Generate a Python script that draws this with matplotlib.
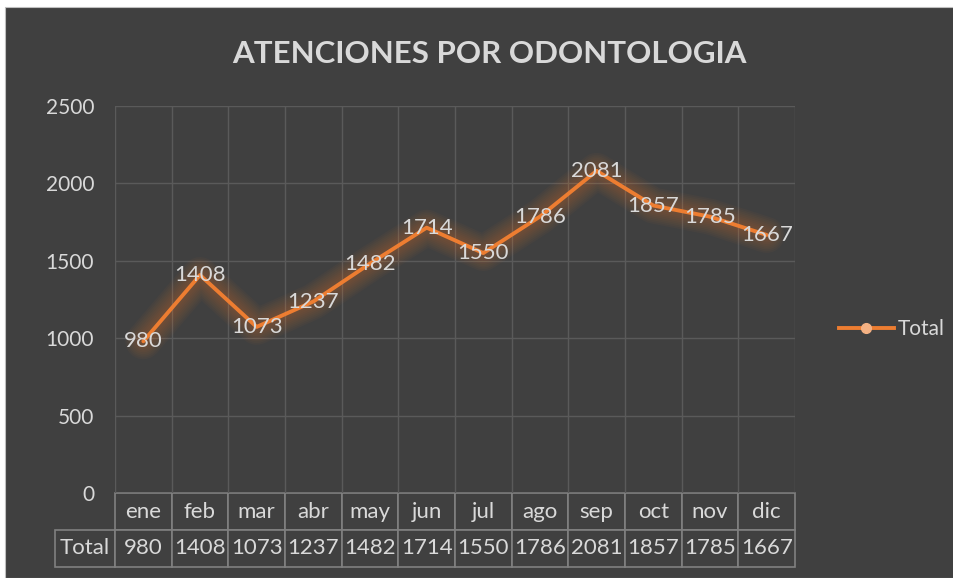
import numpy as np
import matplotlib
matplotlib.use("Agg")
import matplotlib.pyplot as plt
from matplotlib.patches import Rectangle

plt.rcParams['font.family'] = ['Lato', 'DejaVu Sans']

months = ['ene', 'feb', 'mar', 'abr', 'may', 'jun', 'jul', 'ago', 'sep', 'oct', 'nov', 'dic']
total = [980, 1408, 1073, 1237, 1482, 1714, 1550, 1786, 2081, 1857, 1785, 1667]
yticks = [0, 500, 1000, 1500, 2000, 2500]

bg = '#404040'
txt = '#d9d9d9'
grid = '#5a5a5a'
orange = '#ed7d31'
peach = '#f4b183'

fig = plt.figure(figsize=(9.54, 5.78), dpi=100, facecolor='white')
fig.patches.append(Rectangle((5 / 954, 0), 1, 1 - 7 / 578, transform=fig.transFigure,
                             facecolor=bg, edgecolor='#bfbfbf', lw=0.8, zorder=-10))

ax = fig.add_axes([115 / 954, 1 - 493 / 578, 680 / 954, 387 / 578])
ax.patch.set_alpha(0)
x = np.arange(len(months))

# soft glow under the line
for lw in np.linspace(26, 6, 9):
    ax.plot(x, total, color=orange, lw=lw, alpha=0.035, solid_capstyle='round',
            solid_joinstyle='round', zorder=2)
ax.plot(x, total, color=orange, lw=2.8, solid_capstyle='round', zorder=3)

for xi, v in zip(x, total):
    ax.text(xi, v, str(v), ha='center', va='center', color=txt, fontsize=16, zorder=4)

ax.set_xlim(-0.5, len(months) - 0.5)
ax.set_ylim(0, 2500)
ax.set_yticks(yticks)
ax.set_xticks(np.arange(-0.5, len(months), 1))
ax.set_xticklabels([])
ax.tick_params(axis='both', length=0, colors=txt, labelsize=15, pad=15)
ax.grid(True, color=grid, lw=1)
for s in ax.spines.values():
    s.set_visible(False)

# bbox covers the data cells only; the row label column hangs off to the left
tab = ax.table(cellText=[[str(v) for v in total]], rowLabels=['Total'], colLabels=months,
               cellLoc='center', rowLoc='center',
               bbox=[0, -74 / 387, 1, 74 / 387])
tab.auto_set_font_size(False)
for (r, c), cell in tab.get_celld().items():
    cell.set_width(60 / 680 if c == -1 else 1 / 12)
    cell.set_facecolor(bg)
    cell.set_edgecolor('#808080')
    cell.set_linewidth(1.2)
    cell.get_text().set_color(txt)
    cell.get_text().set_fontsize(16)

fig.text(489 / 954, 1 - 54 / 578, 'ATENCIONES POR ODONTOLOGIA', ha='center', va='center',
         color=txt, fontsize=22.5, fontweight='bold')

ax.legend([plt.Line2D([], [], color=orange, lw=2.8, marker='o', markersize=7,
                      markerfacecolor=peach, markeredgecolor=peach)], ['Total'],
          loc='center left', bbox_to_anchor=((820 - 115) / 680, (493 - 329) / 387),
          frameon=False, fontsize=15, labelcolor=txt, handlelength=2.65, handletextpad=0.2)

fig.savefig('out.png', dpi=100, facecolor='white')
